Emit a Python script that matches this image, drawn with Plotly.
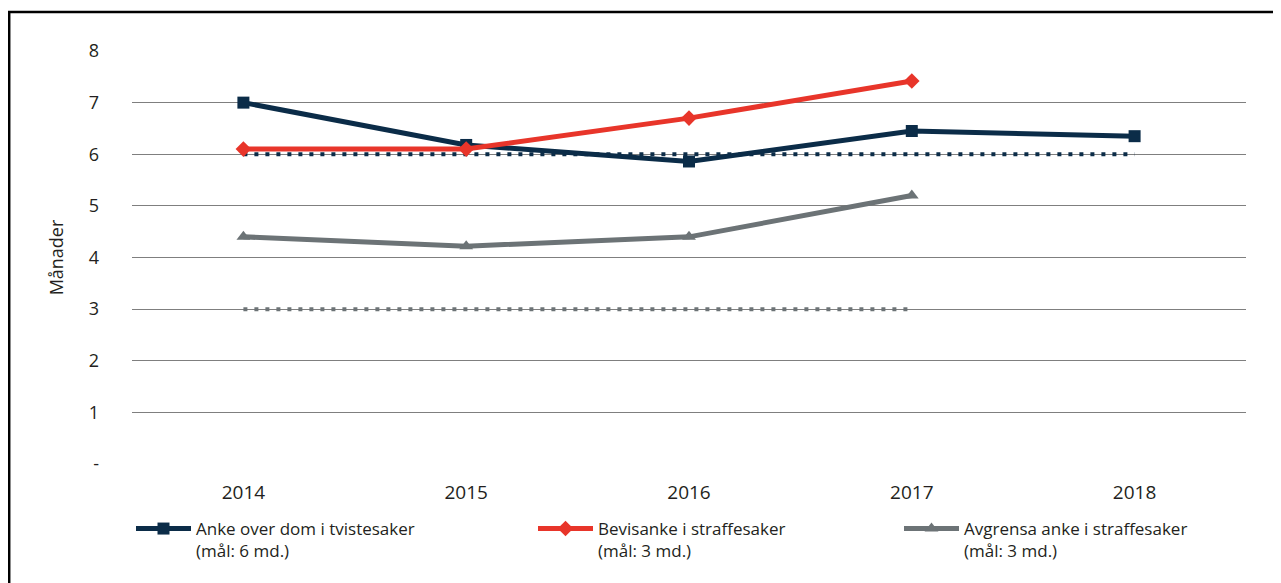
import plotly.graph_objects as go

years = ["2014", "2015", "2016", "2017", "2018"]
anke_tvist = [7.0, 6.18, 5.86, 6.45, 6.35]
bevisanke = [6.1, 6.1, 6.7, 7.42, None]
avgrensa = [4.4, 4.22, 4.4, 5.2, None]
maal_tvist = [6, 6, 6, 6, 6]
maal_straff = [3, 3, 3, 3, None]

names = ["Anke over dom i tvistesaker<br>(mål: 6 md.)",
         "Bevisanke i straffesaker<br>(mål: 3 md.)",
         "Avgrensa anke i straffesaker<br>(mål: 3 md.)"]
y_ticks = [0, 1, 2, 3, 4, 5, 6, 7, 8]
y_ticktext = ["-", "1", "2", "3", "4", "5", "6", "7", "8"]

NAVY = "#0b2c48"
RED = "#e8352a"
GRAY = "#6c7376"
FONT = "Open Sans"

# figure pixel geometry (page has an 8px body margin)
W, H = 1273, 575
L, T = 124, 43
pw, ph = 1114, 413
R, B = W - L - pw, H - T - ph

def px2paper_x(px):
    return (px - L) / pw

def px2paper_y(py):
    return (T + ph - py) / ph

fig = go.Figure()
fig.add_trace(go.Scatter(x=years, y=maal_tvist, mode="lines", showlegend=False,
                         line=dict(color=NAVY, width=4, dash="4px,7px"), hoverinfo="skip"))
fig.add_trace(go.Scatter(x=years, y=maal_straff, mode="lines", showlegend=False,
                         line=dict(color=GRAY, width=4, dash="4px,7px"), hoverinfo="skip"))
fig.add_trace(go.Scatter(x=years, y=anke_tvist, mode="lines+markers", name=names[0],
                         legend="legend",
                         line=dict(color=NAVY, width=5),
                         marker=dict(symbol="square", size=12, color=NAVY)))
fig.add_trace(go.Scatter(x=years, y=bevisanke, mode="lines+markers", name=names[1],
                         legend="legend2",
                         line=dict(color=RED, width=5),
                         marker=dict(symbol="diamond", size=12, color=RED)))
fig.add_trace(go.Scatter(x=years, y=avgrensa, mode="lines+markers", name=names[2],
                         legend="legend3",
                         line=dict(color=GRAY, width=5),
                         marker=dict(symbol="triangle-up", size=12, color=GRAY)))

def leg(px):
    return dict(orientation="h", x=px2paper_x(px), y=px2paper_y(503),
                xanchor="left", yanchor="top", valign="top", itemwidth=55,
                font=dict(size=17), bgcolor="rgba(0,0,0,0)")

fig.update_layout(
    width=W, height=H,
    margin=dict(l=L, r=R, t=T, b=B, autoexpand=False),
    paper_bgcolor="white", plot_bgcolor="white",
    font=dict(family=FONT, size=17, color="#231f20"),
    xaxis=dict(type="category", range=[-0.5, 4.5], showgrid=False, zeroline=False,
               showline=False, ticks="", ticklabelstandoff=15,
               tickfont=dict(size=19)),
    yaxis=dict(range=[0, 8], tickvals=y_ticks, ticktext=y_ticktext,
               showgrid=True, gridcolor="#7f7f7f", gridwidth=1, zeroline=False,
               showline=False, ticks="", ticklabelstandoff=32,
               tickfont=dict(size=18),
               title=dict(text="Månader", font=dict(size=18), standoff=20)),
    legend=leg(123),
    legend2=leg(525),
    legend3=leg(891),
    shapes=[dict(type="rect", xref="paper", yref="paper",
                 x0=px2paper_x(1.2), x1=px2paper_x(1300),
                 y0=px2paper_y(600), y1=px2paper_y(4),
                 line=dict(color="black", width=2.5), fillcolor="rgba(0,0,0,0)",
                 layer="below")],
)

fig.write_html("out.html")
